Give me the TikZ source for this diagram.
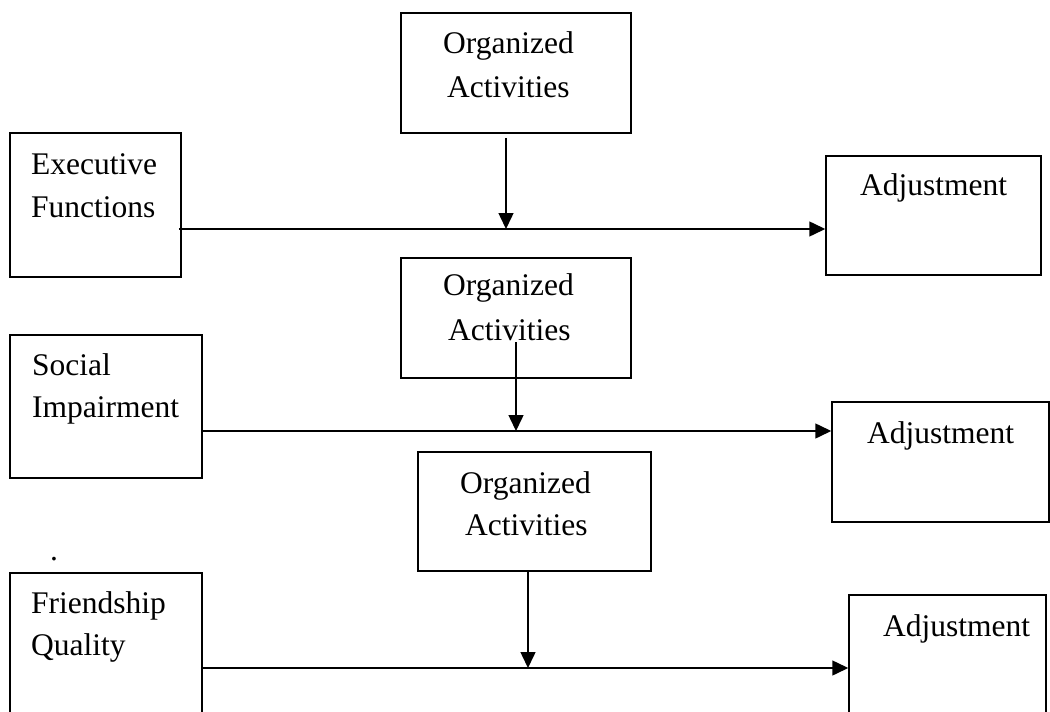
\documentclass[tikz,border=0pt]{standalone}
\usepackage{fontspec}
\setmainfont{Liberation Serif}
\usetikzlibrary{arrows.meta}
\tikzset{
  box/.style={draw, line width=1.5pt, rectangle, inner sep=0pt},
  txt/.style={anchor=base west, inner sep=0pt, font=\fontsize{31.5}{43}\selectfont},
  arr/.style={line width=1.5pt, -{Triangle[length=16pt,width=15pt]}},
}
\begin{document}
\begin{tikzpicture}[x=1pt,y=-1pt]
\useasboundingbox (0,0) rectangle (1050,712);
\clip (0,0) rectangle (1050,712);
% boxes
\node[box, minimum width=230pt, minimum height=120pt] (oa1) at (516,73) {};
\node[box, minimum width=171pt, minimum height=144pt] (ef) at (95.5,205) {};
\node[box, minimum width=215pt, minimum height=119pt] (adj1) at (933.5,215.5) {};
\node[box, minimum width=230pt, minimum height=120pt] (oa2) at (516,318) {};
\node[box, minimum width=192pt, minimum height=143pt] (si) at (106,406.5) {};
\node[box, minimum width=217pt, minimum height=120pt] (adj2) at (940.5,462) {};
\node[box, minimum width=233pt, minimum height=119pt] (oa3) at (534.5,511.5) {};
\node[box, minimum width=192pt, minimum height=167pt] (fq) at (106,656.5) {};
\node[box, minimum width=197pt, minimum height=145pt] (adj3) at (947.5,667.5) {};
% texts
\node[txt] (t1a) at (443,53) {Organized};
\node[txt] (t1b) at (447,97) {Activities};
\node[txt] (t2a) at (31,174) {Executive};
\node[txt] (t2b) at (31,217) {Functions};
\node[txt] (t3) at (860,195) {Adjustment};
\node[txt] (t4a) at (443,295) {Organized};
\node[txt] (t4b) at (448,340) {Activities};
\node[txt] (t5a) at (32,375) {Social};
\node[txt] (t5b) at (32,417) {Impairment};
\node[txt] (t6) at (867,443) {Adjustment};
\node[txt] (t7a) at (460,493) {Organized};
\node[txt] (t7b) at (465,535) {Activities};
\node[txt] (dot) at (50,560) {.};
\node[txt] (t8a) at (31,613) {Friendship};
\node[txt] (t8b) at (31,655) {Quality};
\node[txt] (t9) at (883,636) {Adjustment};
% junctions
\coordinate (j1) at (506,229);
\coordinate (j2) at (516,431);
\coordinate (s2) at (516,342);
\coordinate (j3) at (528,668);
% connectors
\draw[line width=1.5pt] ([xshift=-3pt]ef.east |- j1) -- (j1);
\draw[arr] (j1) -- (adj1.west |- j1);
\draw[arr] ([yshift=-4pt]oa1.south -| j1) -- (j1);
\draw[line width=1.5pt] (si.east |- j2) -- (j2);
\draw[arr] (j2) -- (adj2.west |- j2);
\draw[arr] (s2) -- (j2);
\draw[line width=1.5pt] (fq.east |- j3) -- (j3);
\draw[arr] (j3) -- (adj3.west |- j3);
\draw[arr] (oa3.south -| j3) -- (j3);
\end{tikzpicture}
\end{document}
